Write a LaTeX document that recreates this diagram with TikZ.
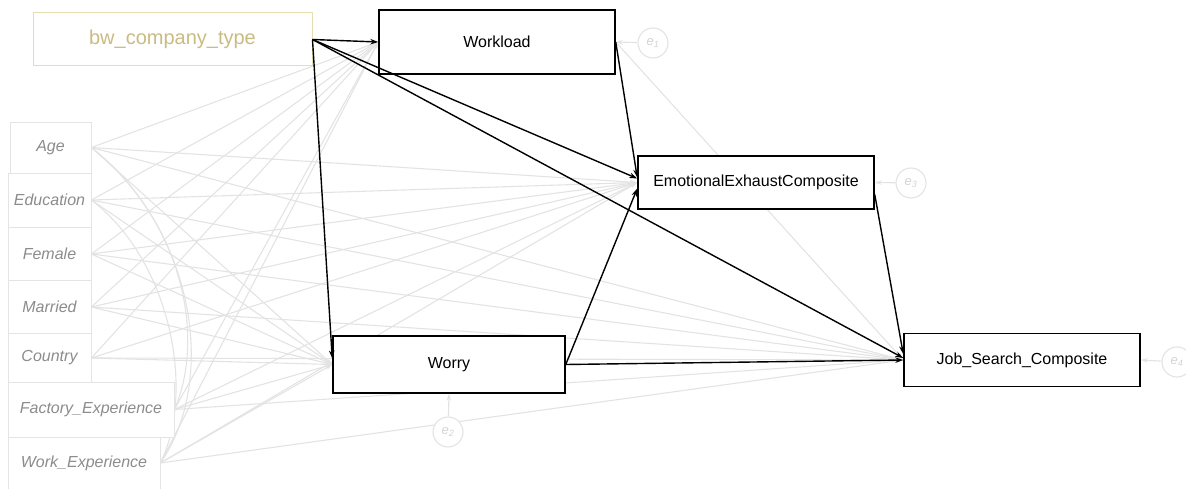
\documentclass[tikz,border=0pt]{standalone}
\usepackage{fontspec}
\setmainfont{Liberation Sans}
\usetikzlibrary{arrows.meta}
\definecolor{lg}{HTML}{E3E3E3}
\definecolor{covtext}{HTML}{8C8C8C}
\definecolor{covline}{HTML}{E4E4E4}
\definecolor{olivetext}{HTML}{C9BC82}
\definecolor{olivebox}{HTML}{E6DDB0}
\definecolor{etext}{HTML}{D4D4D4}
\pgfdeclarelayer{bg}
\pgfsetlayers{bg,main}
\begin{document}
\begin{tikzpicture}[x=1pt,y=-1pt,
  mainbox/.style={draw=black,line width=1.5pt,fill=white,minimum width=236pt,inner sep=0pt,font=\fontsize{16}{18}\selectfont},
  covbox/.style={draw=covline,line width=0.8pt,fill=white,inner sep=0pt,font=\fontsize{16}{18}\selectfont\itshape,text=covtext},
  sig/.style={draw=black,line width=1.4pt,-{Stealth[length=8pt,width=5.5pt]}},
  ns/.style={draw=lg,line width=1.1pt,-{Stealth[length=7pt,width=4.5pt]}},
  covarc/.style={draw=lg,line width=1.1pt},
  errc/.style={circle,draw=lg,fill=white,line width=1.1pt,minimum size=30pt,inner sep=0pt,text=etext,font=\fontsize{13}{14}\selectfont\itshape},
]
\useasboundingbox (0,0) rectangle (1186,489);

% main variables
\node[mainbox,minimum width=279pt,minimum height=53pt,draw=olivebox,line width=1pt,text=olivetext,font=\fontsize{20}{22}\selectfont] (bw) at (172.5,39.5) {bw\_company\_type};
\node[mainbox,minimum height=64pt] (wl) at (497,42) {Workload};
\node[mainbox,minimum height=53pt] (emo) at (756,182.5) {EmotionalExhaustComposite};
\node[mainbox,minimum width=232pt,minimum height=57pt] (wo) at (449,364.5) {Worry};
\node[mainbox,minimum height=53pt] (job) at (1022,360) {Job\_Search\_Composite};

% covariates
\node[covbox,minimum width=81pt,minimum height=51pt] (age) at (50.5,147.5) {Age};
\node[covbox,minimum width=83pt,minimum height=54pt] (edu) at (49.5,200) {Education};
\node[covbox,minimum width=83pt,minimum height=53pt] (fem) at (49.5,254) {Female};
\node[covbox,minimum width=83pt,minimum height=53pt] (mar) at (49.5,307) {Married};
\node[covbox,minimum width=83pt,minimum height=50pt] (cou) at (49.5,358) {Country};
\node[covbox,minimum width=166pt,minimum height=55pt] (fac) at (91,409.5) {Factory\_Experience};
\node[covbox,minimum width=152pt,minimum height=52pt] (wex) at (84,463) {Work\_Experience};

% error terms
\node[errc] (e1) at (653,43) {e\textsubscript{1}};
\node[errc] (e3) at (911,183) {e\textsubscript{3}};
\node[errc] (e4) at (1177,362) {e\textsubscript{4}};
\node[errc] (e2) at (448,432) {e\textsubscript{2}};

\begin{pgfonlayer}{bg}
  \foreach \c in {age,edu,fem,mar,cou,fac,wex}{
    \foreach \t in {wl,wo,emo,job}{
      \draw[ns] (\c.east) -- (\t.west);
    }
  }
  \draw[ns] (wl.east) -- (job.west);
  \draw[covarc] (age.east) .. controls (195,230) and (218,380) .. (wex.east);
  \draw[covarc] (age.east) .. controls (185,222) and (205,340) .. (fac.east);
  \draw[covarc] (edu.east) .. controls (170,260) and (196,390) .. (wex.east);
\end{pgfonlayer}

% error arrows
\draw[ns] (e1) -- (wl.east);
\draw[ns] (e3) -- (emo.east);
\draw[ns] (e4) -- (job.east);
\draw[ns] (e2) -- (wo.south);

% significant paths
\draw[sig] (bw.east) -- (wl.west);
\draw[sig] (bw.east) -- ([yshift=6pt]wo.west);
\draw[sig] (bw.east) -- ([yshift=4pt]emo.west);
\draw[sig] (bw.east) -- ([yshift=2pt]job.west);
\draw[sig] (wl.east) -- ([yshift=5pt]emo.west);
\draw[sig] (wo.east) -- ([yshift=-6pt]emo.west);
\draw[sig] (wo.east) -- (job.west);
\draw[sig] ([yshift=-12pt]emo.east) -- ([yshift=6pt]job.west);
\end{tikzpicture}
\end{document}
